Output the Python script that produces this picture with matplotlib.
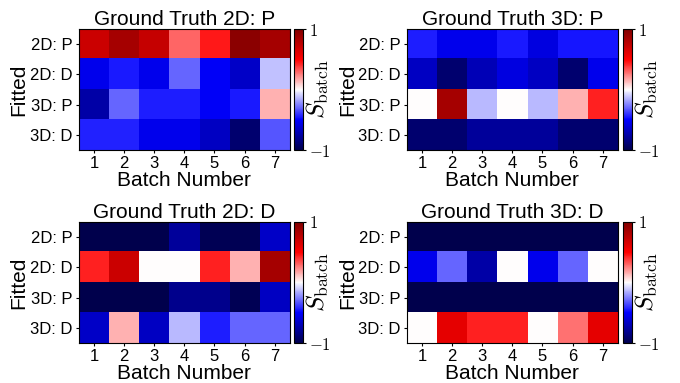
import numpy as np
import matplotlib
matplotlib.use("Agg")
import matplotlib.pyplot as plt

plt.rcParams['font.family'] = ['Liberation Sans', 'DejaVu Sans']
plt.rcParams['mathtext.fontset'] = 'cm'

batches = [1, 2, 3, 4, 5, 6, 7]
fitted = ["2D: P", "2D: D", "3D: P", "3D: D"]
titles = ["Ground Truth 2D: P", "Ground Truth 3D: P",
          "Ground Truth 2D: D", "Ground Truth 3D: D"]

# S_batch values, rows = fitted model, columns = batch
gt_2d_p = [[0.70, 0.85, 0.72, 0.30, 0.45, 0.95, 0.85],
           [-0.55, -0.45, -0.55, -0.30, -0.52, -0.65, -0.12],
           [-0.75, -0.30, -0.44, -0.44, -0.52, -0.45, 0.15],
           [-0.43, -0.43, -0.55, -0.55, -0.67, -0.90, -0.33]]
gt_3d_p = [[-0.44, -0.55, -0.55, -0.45, -0.58, -0.46, -0.46],
           [-0.67, -0.90, -0.70, -0.58, -0.67, -0.90, -0.55],
           [0.00, 0.85, -0.14, 0.00, -0.14, 0.15, 0.43],
           [-0.90, -0.90, -0.78, -0.78, -0.78, -0.90, -0.90]]
gt_2d_d = [[-1.00, -1.00, -1.00, -0.78, -0.97, -0.97, -0.65],
           [0.43, 0.70, 0.00, 0.00, 0.43, 0.15, 0.85],
           [-1.00, -1.00, -1.00, -0.82, -0.82, -0.97, -0.67],
           [-0.65, 0.15, -0.67, -0.14, -0.44, -0.30, -0.30]]
gt_3d_d = [[-1.00, -1.00, -1.00, -1.00, -1.00, -1.00, -1.00],
           [-0.55, -0.30, -0.75, 0.00, -0.55, -0.30, 0.00],
           [-1.00, -1.00, -1.00, -1.00, -1.00, -1.00, -1.00],
           [0.00, 0.60, 0.43, 0.43, 0.00, 0.28, 0.60]]
data = [gt_2d_p, gt_3d_p, gt_2d_d, gt_3d_d]

fig = plt.figure(figsize=(6.8, 3.83), dpi=100)

lefts = [0.116, 0.5985, 0.116, 0.5985]
bottoms = [0.608, 0.608, 0.1044, 0.1044]
cb_lefts = [0.432, 0.916, 0.432, 0.916]

for i in range(4):
    ax = fig.add_axes([lefts[i], bottoms[i], 0.310, 0.316])
    im = ax.imshow(np.array(data[i]), cmap='seismic', vmin=-1, vmax=1,
                   aspect='auto')
    ax.set_xticks(range(len(batches)))
    ax.set_xticklabels(batches, fontsize=12)
    ax.set_yticks(range(len(fitted)))
    ax.set_yticklabels(fitted, fontsize=12)
    ax.tick_params(length=2.5, pad=2)
    ax.set_title(titles[i], fontsize=15, pad=3)
    ax.set_xlabel("Batch Number", fontsize=15, labelpad=0)
    ax.set_ylabel("Fitted", fontsize=15, labelpad=1)

    cax = fig.add_axes([cb_lefts[i], bottoms[i], 0.013, 0.316])
    cb = fig.colorbar(im, cax=cax, ticks=[-1, 1])
    cb.ax.set_yticklabels([r"$-1$", r"$1$"], fontsize=12)
    cb.ax.tick_params(length=2.5, pad=2)
    cb.set_label(r"$S_{\rm batch}$", fontsize=18, labelpad=-19)

plt.savefig("out.png", dpi=100)
